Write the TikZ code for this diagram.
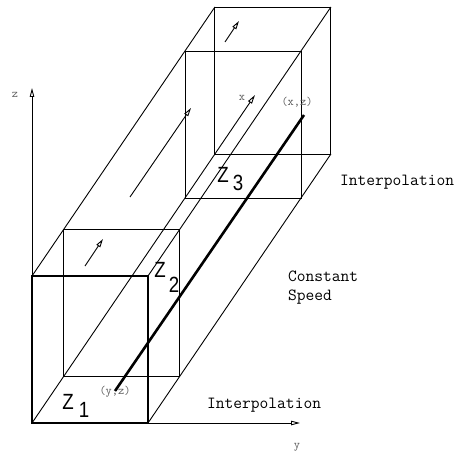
\documentclass[tikz,border=0pt]{standalone}
\usepackage{fontspec}
\setmainfont{Liberation Sans}
\usetikzlibrary{arrows.meta}
\begin{document}
\begin{tikzpicture}[x=1pt,y=-1pt,
  edge/.style={line width=0.9pt},
  front/.style={line width=1.3pt},
  arr/.style={line width=0.9pt,-{Triangle[open,length=9pt,width=4.5pt]}},
  sarr/.style={line width=0.9pt,-{Triangle[open,length=8.5pt,width=4.5pt]}},
  small/.style={font=\ttfamily\fontsize{12}{14}\selectfont, text=black!65, inner sep=0pt},
  lbl/.style={font=\ttfamily\fontsize{17}{19}\selectfont, inner sep=0pt, align=left},
  zl/.style={font=\fontsize{22}{24}\selectfont, inner sep=0pt, xscale=0.85}]
\useasboundingbox (0,0) rectangle (457,457);
% corners of the four sections
\coordinate (BL1) at (32,423);   \coordinate (TR1) at (148,276);
\coordinate (BR1) at (148,423);  \coordinate (TL1) at (32,276);
\coordinate (BL2) at (63.6,376.5); \coordinate (TR2) at (179.6,229.5);
\coordinate (BL3) at (185,198);  \coordinate (TR3) at (301,51);
\coordinate (BL4) at (214.9,154); \coordinate (TR4) at (330.9,7);
\coordinate (BR4) at (330.9,154); \coordinate (TL4) at (214.9,7);
% axes ends
\coordinate (ztip) at (32,88);
\coordinate (ytip) at (300,423);
\coordinate (xtip) at (255,95);
% section frames
\draw[front] (BL1) rectangle (TR1);
\draw[edge] (BL2) rectangle (TR2);
\draw[edge] (BL3) rectangle (TR3);
\draw[edge] (BL4) rectangle (TR4);
% long edges
\draw[edge] (BL1) -- (BL4);
\draw[edge] (BR1) -- (BR4);
\draw[edge] (TR1) -- (TR4);
\draw[edge] (TL1) -- (TL4);
% axes
\draw[arr] (BL1) -- (ztip);
\draw[arr] (BL1) -- (ytip);
\draw[arr] (BL4) -- (xtip);
% arrows on the top face
\coordinate (a1) at (85,266);  \coordinate (a2) at (103,239);
\coordinate (b1) at (130,197); \coordinate (b2) at (191,108);
\coordinate (c1) at (225,42);  \coordinate (c2) at (239,21);
\draw[sarr] (a1) -- (a2);
\draw[sarr] (b1) -- (b2);
\draw[sarr] (c1) -- (c2);
% trajectory
\coordinate (p1) at (115,391);
\coordinate (p2) at (304,115);
\draw[line width=2.6pt] (p1) -- (p2);
% labels
\node[small] (lz) at (15,95) {z};
\node[small] (ly) at (297,447) {y};
\node[small] (lx) at (242,98) {x};
\node[small] (lyz) at (115,392) {(y,z)};
\node[small] (lxz) at (297,102) {(x,z)};
\node[lbl,anchor=west] (i1) at (340,182) {Interpolation};
\node[lbl,anchor=west] (i2) at (207,405) {Interpolation};
\node[lbl,anchor=north west] (cs) at (288,271) {Constant\\Speed};
\node[zl] (z1) at (68,402) {Z};
\node[zl] (n1) at (84,410) {1};
\node[zl] (z2) at (160,270) {Z};
\node[zl] (n2) at (174,285) {2};
\node[zl] (z3) at (223,175) {Z};
\node[zl] (n3) at (238,183) {3};
\end{tikzpicture}
\end{document}
